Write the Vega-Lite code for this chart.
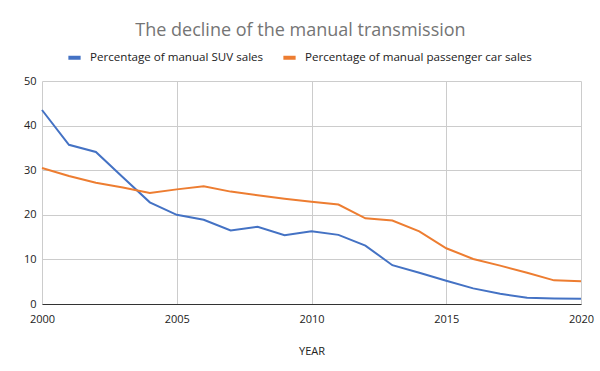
{
  "$schema": "https://vega.github.io/schema/vega-lite/v6.json",
  "width": 539,
  "height": 223,
  "autosize": {"type": "none"},
  "padding": {"left": 42, "top": 81, "right": 19, "bottom": 67},
  "background": "white",
  "title": {
    "text": "The decline of the manual transmission",
    "anchor": "middle",
    "fontSize": 18,
    "font": "Open Sans",
    "fontWeight": "normal",
    "color": "#757575",
    "dx": -11,
    "offset": 9
  },
  "data": {
    "values": [
      {"year": 2000, "series": "Percentage of manual SUV sales", "value": 43.5},
      {"year": 2001, "series": "Percentage of manual SUV sales", "value": 35.7},
      {"year": 2002, "series": "Percentage of manual SUV sales", "value": 34.1},
      {"year": 2003, "series": "Percentage of manual SUV sales", "value": 28.4},
      {"year": 2004, "series": "Percentage of manual SUV sales", "value": 22.8},
      {"year": 2005, "series": "Percentage of manual SUV sales", "value": 20.0},
      {"year": 2006, "series": "Percentage of manual SUV sales", "value": 18.9},
      {"year": 2007, "series": "Percentage of manual SUV sales", "value": 16.5},
      {"year": 2008, "series": "Percentage of manual SUV sales", "value": 17.3},
      {"year": 2009, "series": "Percentage of manual SUV sales", "value": 15.4},
      {"year": 2010, "series": "Percentage of manual SUV sales", "value": 16.3},
      {"year": 2011, "series": "Percentage of manual SUV sales", "value": 15.5},
      {"year": 2012, "series": "Percentage of manual SUV sales", "value": 13.1},
      {"year": 2013, "series": "Percentage of manual SUV sales", "value": 8.7},
      {"year": 2014, "series": "Percentage of manual SUV sales", "value": 7.0},
      {"year": 2015, "series": "Percentage of manual SUV sales", "value": 5.2},
      {"year": 2016, "series": "Percentage of manual SUV sales", "value": 3.5},
      {"year": 2017, "series": "Percentage of manual SUV sales", "value": 2.3},
      {"year": 2018, "series": "Percentage of manual SUV sales", "value": 1.4},
      {"year": 2019, "series": "Percentage of manual SUV sales", "value": 1.25},
      {"year": 2020, "series": "Percentage of manual SUV sales", "value": 1.2},
      {"year": 2000, "series": "Percentage of manual passenger car sales", "value": 30.5},
      {"year": 2001, "series": "Percentage of manual passenger car sales", "value": 28.7},
      {"year": 2002, "series": "Percentage of manual passenger car sales", "value": 27.2},
      {"year": 2003, "series": "Percentage of manual passenger car sales", "value": 26.1},
      {"year": 2004, "series": "Percentage of manual passenger car sales", "value": 24.9},
      {"year": 2005, "series": "Percentage of manual passenger car sales", "value": 25.7},
      {"year": 2006, "series": "Percentage of manual passenger car sales", "value": 26.4},
      {"year": 2007, "series": "Percentage of manual passenger car sales", "value": 25.2},
      {"year": 2008, "series": "Percentage of manual passenger car sales", "value": 24.4},
      {"year": 2009, "series": "Percentage of manual passenger car sales", "value": 23.6},
      {"year": 2010, "series": "Percentage of manual passenger car sales", "value": 22.9},
      {"year": 2011, "series": "Percentage of manual passenger car sales", "value": 22.3},
      {"year": 2012, "series": "Percentage of manual passenger car sales", "value": 19.2},
      {"year": 2013, "series": "Percentage of manual passenger car sales", "value": 18.7},
      {"year": 2014, "series": "Percentage of manual passenger car sales", "value": 16.3},
      {"year": 2015, "series": "Percentage of manual passenger car sales", "value": 12.5},
      {"year": 2016, "series": "Percentage of manual passenger car sales", "value": 10.1},
      {"year": 2017, "series": "Percentage of manual passenger car sales", "value": 8.6},
      {"year": 2018, "series": "Percentage of manual passenger car sales", "value": 7.0},
      {"year": 2019, "series": "Percentage of manual passenger car sales", "value": 5.3},
      {"year": 2020, "series": "Percentage of manual passenger car sales", "value": 5.1}
    ]
  },
  "mark": {"type": "line", "strokeWidth": 2},
  "encoding": {
    "x": {
      "field": "year",
      "type": "quantitative",
      "title": "YEAR",
      "scale": {"domain": [2000, 2020], "nice": false, "zero": false},
      "axis": {
        "values": [2000, 2005, 2010, 2015, 2020],
        "format": "d",
        "grid": true,
        "gridColor": "#cccccc",
        "ticks": false,
        "domainColor": "#333333",
        "labelFont": "Open Sans",
        "labelFontSize": 11,
        "labelColor": "#222222",
        "labelPadding": 9,
        "labelFlush": false,
        "titleFont": "Open Sans",
        "titleFontSize": 11,
        "titleFontWeight": "normal",
        "titleColor": "#222222",
        "titlePadding": 21
      }
    },
    "y": {
      "field": "value",
      "type": "quantitative",
      "title": null,
      "scale": {"domain": [0, 50], "nice": false},
      "axis": {
        "values": [0, 10, 20, 30, 40, 50],
        "grid": true,
        "gridColor": "#cccccc",
        "ticks": false,
        "domain": false,
        "labelFont": "Open Sans",
        "labelFontSize": 11,
        "labelColor": "#222222",
        "labelPadding": 6
      }
    },
    "color": {
      "field": "series",
      "type": "nominal",
      "sort": ["Percentage of manual SUV sales", "Percentage of manual passenger car sales"],
      "scale": {
        "domain": ["Percentage of manual SUV sales", "Percentage of manual passenger car sales"],
        "range": ["#4472C4", "#ED7D31"]
      },
      "legend": {
        "title": null,
        "orient": "none",
        "direction": "horizontal",
        "legendX": 24,
        "legendY": -32,
        "symbolType": "stroke",
        "symbolStrokeWidth": 4,
        "symbolSize": 150,
        "labelFont": "Open Sans",
        "labelFontSize": 11.6,
        "labelColor": "#222222",
        "labelLimit": 0,
        "columnPadding": 11,
        "labelOffset": 7
      }
    }
  },
  "config": {"view": {"stroke": null}}
}
